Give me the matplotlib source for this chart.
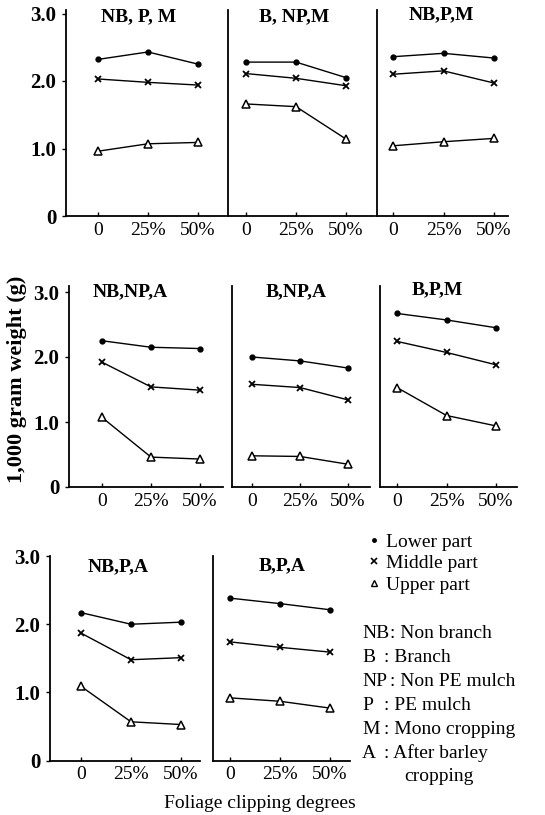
import matplotlib
matplotlib.use("Agg")
import matplotlib.pyplot as plt
from matplotlib.lines import Line2D

plt.rcParams["font.family"] = ["Liberation Serif", "DejaVu Serif"]

W, H = 545, 815

# foliage clipping degree (%)
clip = [0, 25, 50]
clip_labels = ["0", "25%", "50%"]

titles = ["NB, P, M", "B, NP,M", "NB,P,M",
          "NB,NP,A", "B,NP,A", "B,P,M",
          "NB,P,A", "B,P,A"]

# 1,000 grain weight (g) by position on the plant
lower = [[2.32, 2.43, 2.25], [2.28, 2.28, 2.05], [2.36, 2.41, 2.34],
         [2.25, 2.15, 2.13], [2.00, 1.94, 1.83], [2.67, 2.57, 2.45],
         [2.17, 2.00, 2.03], [2.38, 2.30, 2.21]]
middle = [[2.03, 1.98, 1.94], [2.11, 2.04, 1.93], [2.10, 2.15, 1.97],
          [1.92, 1.54, 1.49], [1.58, 1.53, 1.34], [2.24, 2.07, 1.88],
          [1.87, 1.48, 1.51], [1.74, 1.66, 1.59]]
upper = [[0.96, 1.07, 1.09], [1.66, 1.62, 1.14], [1.04, 1.10, 1.15],
         [1.07, 0.46, 0.43], [0.48, 0.47, 0.35], [1.53, 1.10, 0.94],
         [1.09, 0.57, 0.53], [0.92, 0.87, 0.77]]

abbrs = ["NB", "B", "NP", "P", "M", "A", ""]
descs = ["Non branch", "Branch", "Non PE mulch", "PE mulch",
         "Mono cropping", "After barley", "cropping"]

# row geometry in pixels: y of zero, pixels per 1 g, top of axes
rows = [(216, 67.5, 10), (487, 65.0, 286), (760.7, 68.3, 556)]
# panel geometry in pixels: left, right, x of 0%, x of 50%, row, title x, title y
panels = [(66, 226, 98, 198, 0, 139, 17), (228, 375, 246, 346, 0, 294, 17),
          (377, 508, 393, 494, 0, 441, 15),
          (69, 223, 102, 200, 1, 130, 292), (232, 370, 252, 348, 1, 296, 292),
          (380, 517, 397, 496, 1, 437, 290),
          (50, 200, 81, 181, 2, 118, 567), (213, 350, 230, 330, 2, 282, 566)]

fig = plt.figure(figsize=(W / 100, H / 100), dpi=100)

for i, (l, r, x0, x50, row, tx, ty) in enumerate(panels):
    zero, unit, top = rows[row]
    ax = fig.add_axes([l / W, (H - zero) / H, (r - l) / W, (zero - top) / H])
    s = 50 / (x50 - x0)
    ax.set_xlim(-(x0 - l) * s, 50 + (r - x50) * s)
    ax.set_ylim(0, (zero - top) / unit)

    ax.plot(clip, lower[i], color="black", lw=1.0, marker="o", ms=3.5,
            label="Lower part")
    ax.plot(clip, middle[i], color="black", lw=1.0, marker="x", ms=5,
            mew=1.3, label="Middle part")
    ax.plot(clip, upper[i], color="black", lw=1.0, marker="^", ms=5.5,
            mfc="white", mew=1.1, label="Upper part")

    for side in ["top", "right"]:
        ax.spines[side].set_visible(False)
    for side in ["left", "bottom"]:
        ax.spines[side].set_linewidth(1.3)

    ax.set_xticks(clip)
    ax.set_xticklabels(clip_labels, fontsize=14)
    ax.tick_params(axis="x", direction="in", length=3, width=1, pad=4)

    first = i in (0, 3, 6)
    if first:
        ax.set_yticks([0, 1, 2, 3])
        ax.set_yticklabels(["0", "1.0", "2.0", "3.0"], fontsize=15,
                           fontweight="bold")
        ax.tick_params(axis="y", direction="out", length=3, width=1, pad=4)
    else:
        ax.set_yticks([])

    fig.text(tx / W, 1 - ty / H, titles[i], ha="center", va="center",
             fontsize=14, fontweight="bold")

fig.text(17 / W, 1 - 379 / H, "1,000 gram weight (g)", rotation=90,
         ha="center", va="center", fontsize=16, fontweight="bold")

legend_handles = [
    Line2D([], [], ls="none", color="black", marker="o", ms=2.5),
    Line2D([], [], ls="none", color="black", marker="x", ms=4, mew=1.2),
    Line2D([], [], ls="none", color="black", marker="^", ms=5, mfc="white",
           mew=1.0),
]
fig.legend(legend_handles, ["Lower part", "Middle part", "Upper part"],
           loc="upper left", bbox_to_anchor=(368 / W, 1 - 533 / H),
           frameon=False, fontsize=14, handlelength=0.6, handletextpad=0.35,
           labelspacing=0.2, borderpad=0, borderaxespad=0)

for k, (a, d) in enumerate(zip(abbrs, descs)):
    y = 1 - (634 + k * 23.8) / H
    fig.text(362 / W, y, a, ha="left", va="center", fontsize=14)
    if a:
        cx = 390 if len(a) == 2 else 384
        fig.text(cx / W, y, ": " + d, ha="left", va="center", fontsize=14)
    else:
        fig.text(404 / W, y, d, ha="left", va="center", fontsize=14)

fig.text(260 / W, 1 - 803 / H, "Foliage clipping degrees", ha="center",
         va="center", fontsize=14)

fig.savefig("out.png", dpi=100)
